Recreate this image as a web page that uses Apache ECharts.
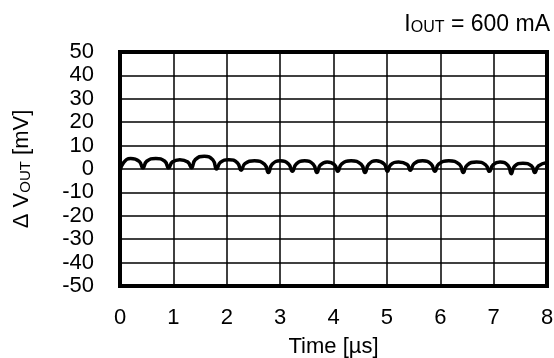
<!DOCTYPE html>
<html><head><meta charset="utf-8">
<script src="https://cdn.jsdelivr.net/npm/echarts@6/dist/echarts.min.js"></script>
<style>html,body{margin:0;padding:0;background:#fff}#c{width:554px;height:358px}</style>
</head><body><div id="c"></div>
<script>
const xTicks = [0,1,2,3,4,5,6,7,8];
const yTicks = [-50,-40,-30,-20,-10,0,10,20,30,40,50];
// Time [µs] and ΔVout [mV] (cusp, shoulder, peak, shoulder, ...)
const timeUs = [0.00,0.07,0.20,0.36,0.43,0.50,0.67,0.84,0.91,0.98,1.12,1.27,1.34,1.41,1.58,1.74,1.81,1.88,2.04,2.20,2.27,2.34,2.52,2.71,2.78,2.85,3.00,3.16,3.23,3.30,3.46,3.62,3.69,3.75,3.88,4.02,4.08,4.15,4.33,4.52,4.59,4.66,4.80,4.95,5.01,5.07,5.22,5.38,5.44,5.51,5.67,5.83,5.90,5.97,6.16,6.36,6.43,6.50,6.68,6.85,6.92,6.99,7.12,7.27,7.33,7.39,7.55,7.71,7.77,7.84,8.00];
const dVout = [-1.0,2.8,4.5,3.3,0.5,3.3,4.5,3.3,0.5,3.0,4.0,3.0,0.5,4.0,5.5,3.9,0.0,2.8,4.0,2.6,-0.5,2.3,3.5,2.0,-1.5,2.0,3.5,2.1,-1.0,2.1,3.5,2.0,-1.5,1.6,3.0,1.8,-1.0,2.1,3.5,2.0,-1.5,2.0,3.5,2.1,-1.0,1.8,3.0,1.9,-0.5,2.3,3.5,2.1,-1.0,2.1,3.5,2.0,-1.5,1.6,3.0,1.8,-1.0,1.8,3.0,1.5,-2.0,1.1,2.5,1.3,-1.5,1.3,2.8];
const titleText = '{a|I}{s|OUT}{a| = 600 mA}';
const xName = 'Time [µs]';
const yName = '{a|Δ V}{s|OUT}{a| [mV]}';

const FONT = 'Liberation Sans, Arial, sans-serif';
const FS = 22;
const rich = {
  a: {fontFamily: FONT, fontSize: FS, fontWeight: 'normal', color: '#000', lineHeight: 26, verticalAlign: 'bottom'},
  s: {fontFamily: FONT, fontSize: 15, fontWeight: 'normal', color: '#000', lineHeight: 18, verticalAlign: 'bottom'}
};
const titleRich = {
  a: {fontFamily: FONT, fontSize: 23, fontWeight: 'normal', color: '#000', lineHeight: 27, verticalAlign: 'bottom'},
  s: {fontFamily: FONT, fontSize: 16, fontWeight: 'normal', color: '#000', lineHeight: 19, verticalAlign: 'bottom'}
};
const chart = echarts.init(document.getElementById('c'), null, {renderer: 'canvas'});
chart.setOption({
  animation: false,
  backgroundColor: '#fff',
  title: {text: titleText, right: 4, top: 9, padding: 0, textStyle: {rich: titleRich, fontWeight: 'normal'}},
  grid: {left: 120, right: 7, top: 52, bottom: 72, show: true, borderColor: '#000', borderWidth: 4,
         containLabel: false, outerBoundsMode: 'none'},
  xAxis: {
    type: 'value', min: 0, max: 8, interval: 1,
    name: xName, nameLocation: 'middle', nameGap: 50,
    nameTextStyle: {fontFamily: FONT, fontSize: FS, color: '#000'},
    axisLine: {show: false}, axisTick: {show: false},
    axisLabel: {fontFamily: FONT, fontSize: FS, color: '#000', margin: 21, showMinLabel: true, showMaxLabel: true, hideOverlap: false},
    splitLine: {show: true, lineStyle: {color: '#000', width: 1.5}}
  },
  yAxis: {
    type: 'value', min: -50, max: 50, interval: 10,
    name: yName, nameLocation: 'middle', nameGap: 87, nameRotate: 90,
    nameTextStyle: {rich: rich},
    axisLine: {show: false}, axisTick: {show: false},
    axisLabel: {fontFamily: FONT, fontSize: FS, color: '#000', margin: 26, showMinLabel: true, showMaxLabel: true, hideOverlap: false},
    splitLine: {show: true, lineStyle: {color: '#000', width: 1.5}}
  },
  series: [{
    type: 'line', showSymbol: false, smooth: 0.5,
    data: timeUs.map((t, i) => [t, dVout[i]]),
    lineStyle: {color: '#000', width: 3.5}
  }]
});
</script></body></html>
